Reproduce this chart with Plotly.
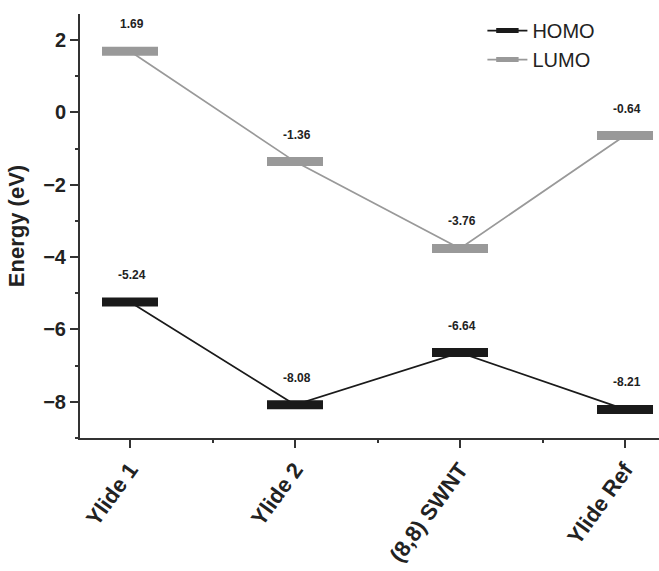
import plotly.graph_objects as go

categories = ["Ylide 1", "Ylide 2", "(8,8) SWNT", "Ylide Ref"]
homo = [-5.24, -8.08, -6.64, -8.21]
lumo = [1.69, -1.36, -3.76, -0.64]
homo_labels = ["-5.24", "-8.08", "-6.64", "-8.21"]
lumo_labels = ["1.69", "-1.36", "-3.76", "-0.64"]
ytick_vals = [2, 0, -2, -4, -6, -8]

xs = list(range(len(categories)))
FONT = "Arial, Liberation Sans, sans-serif"

fig = go.Figure()
for name, vals, color in [("HOMO", homo, "#1a1a1a"), ("LUMO", lumo, "#999999")]:
    fig.add_trace(go.Scatter(
        x=xs, y=vals, name=name, mode="lines+markers",
        line=dict(color=color, width=1.7),
        marker=dict(symbol="line-ew", size=40, line=dict(color=color, width=9), color=color),
    ))

for vals, labels in [(homo, homo_labels), (lumo, lumo_labels)]:
    for x, v, t in zip(xs, vals, labels):
        fig.add_annotation(x=x, y=v, text=t, showarrow=False, yshift=27, xshift=2,
                           font=dict(family=FONT, size=12, color="#222", weight="bold"))

fig.update_layout(
    width=659, height=571,
    margin=dict(l=80, r=0, t=14, b=133),
    plot_bgcolor="white", paper_bgcolor="white",
    showlegend=True,
    legend=dict(x=0.695, y=1.007, xanchor="left", yanchor="top",
                font=dict(family=FONT, size=20, color="#222"),
                bgcolor="rgba(0,0,0,0)", itemwidth=40, tracegroupgap=0),
    xaxis=dict(
        range=[-0.303, 3.206], tickmode="array", tickvals=xs, ticktext=categories,
        tickangle=-54, showgrid=False, zeroline=False,
        showline=True, linecolor="#333", linewidth=2,
        ticks="outside", ticklen=8, tickwidth=2, tickcolor="#333",
        tickfont=dict(family=FONT, size=22, color="#222", weight="bold"),
        minor=dict(ticks="outside", ticklen=3, tickwidth=1.5, tickcolor="#333",
                   tick0=0.5, dtick=1, showgrid=False),
    ),
    yaxis=dict(
        range=[-9.0, 2.72], tickmode="array", tickvals=ytick_vals,
        showgrid=False, zeroline=False,
        showline=True, linecolor="#333", linewidth=2,
        ticks="outside", ticklen=8, tickwidth=2, tickcolor="#333",
        tickfont=dict(family=FONT, size=20, color="#222", weight="bold"),
        minor=dict(ticks="outside", ticklen=3, tickwidth=1.5, tickcolor="#333",
                   tick0=1, dtick=2, showgrid=False),
        title=dict(text="Energy (eV)", font=dict(family=FONT, size=22, color="#222", weight="bold"),
                   standoff=12),
    ),
)

fig.write_html("out.html")
